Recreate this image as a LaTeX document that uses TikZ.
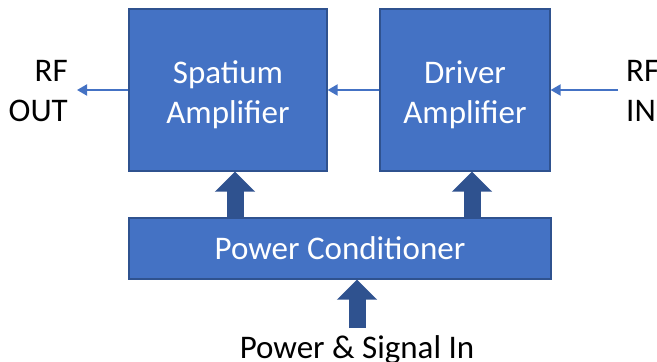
\documentclass[tikz,border=0pt]{standalone}
\usepackage{fontspec}
\setmainfont{Carlito}
\usetikzlibrary{arrows.meta}
\definecolor{boxblue}{HTML}{4472C4}
\definecolor{edgeblue}{HTML}{2F528F}
\newcommand{\toprow}{\rule{0pt}{32pt}}

\begin{document}
\begin{tikzpicture}[x=1pt,y=-1pt,font=\fontsize{33}{40}\selectfont,
    block/.style={draw=edgeblue,line width=1.2pt,fill=boxblue,
        text=white,align=center,inner sep=0pt},
    port/.style={inner sep=0pt},
    signal/.style={draw=boxblue,line width=2pt,
        -{Triangle[width=11pt,length=10pt]}},
    feed/.style={draw=edgeblue,line width=17pt,
        -{Triangle[width=39pt,length=20pt]}}]
    \useasboundingbox (0,0) rectangle (657,362);

    % amplifier chain
    \node[block,minimum width=198pt,minimum height=162pt]
        (spatium-amp) at (228,90) {\toprow Spatium\\Amplifier};
    \node[block,minimum width=170pt,minimum height=162pt]
        (driver-amp) at (465,90) {\toprow Driver\\Amplifier};
    \node[block,minimum width=422pt,minimum height=61pt]
        (power-cond) at (340,248.5) {Power Conditioner};

    \node[port,anchor=east,align=right] (rf-out) at (68,91) {RF\\OUT};
    \node[port,anchor=west,align=left] (rf-in) at (626,91) {RF\\IN};
    \coordinate (rf-out-tip) at (77,90);
    \coordinate (rf-in-tail) at (618,90);

    \draw[signal] (rf-in-tail) -- (driver-amp.east);
    \draw[signal] (driver-amp.west) -- (spatium-amp.east);
    \draw[signal] (spatium-amp.west) -- (rf-out-tip);

    % supply feeds
    \coordinate (feed-left) at (235,0);
    \coordinate (feed-right) at (472,0);
    \draw[feed] (feed-left |- power-cond.north)
        -- (feed-left |- spatium-amp.south);
    \draw[feed] (feed-right |- power-cond.north)
        -- (feed-right |- driver-amp.south);

    \node[port,anchor=base] (power-in) at (357,358) {Power \& Signal In};
    \coordinate (feed-base) at (357,328);
    \draw[feed] (feed-base) -- (feed-base |- power-cond.south);
\end{tikzpicture}
\end{document}
